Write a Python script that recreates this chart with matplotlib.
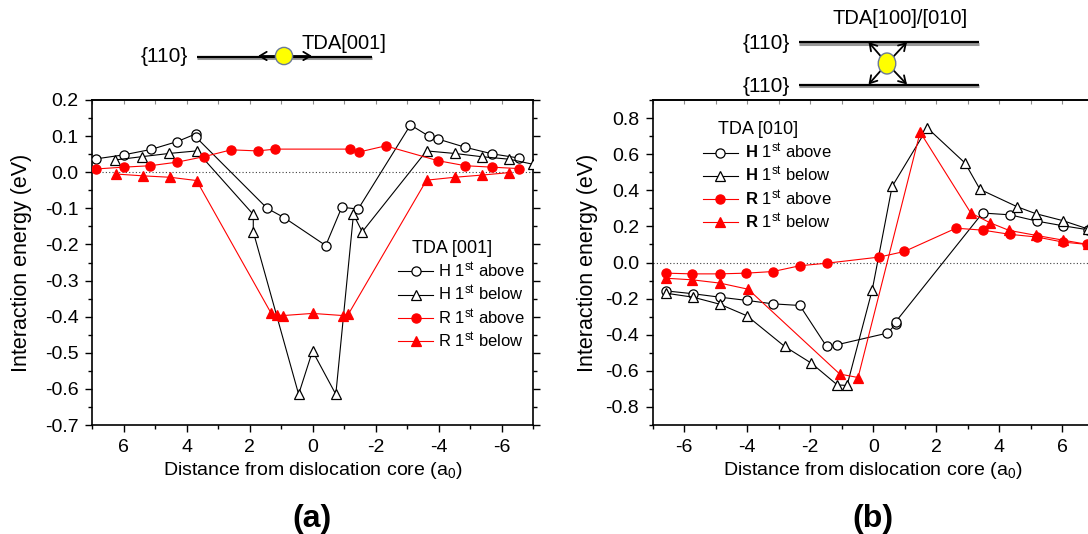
import matplotlib
matplotlib.use('Agg')
import matplotlib.pyplot as plt
from matplotlib.patches import Circle, Ellipse
from matplotlib.ticker import MultipleLocator, FormatStrFormatter

plt.rcParams['font.family'] = ['Liberation Sans', 'DejaVu Sans']
plt.rcParams['mathtext.fontset'] = 'custom'
plt.rcParams['mathtext.rm'] = 'Liberation Sans'
plt.rcParams['mathtext.bf'] = 'Liberation Sans:bold'
plt.rcParams['mathtext.it'] = 'Liberation Sans:italic'
plt.rcParams['axes.unicode_minus'] = False

# ---------------- data: panel (a) TDA[001] ----------------
a_h_above_x = [6.87, 6.0, 5.13, 4.29, 3.71, 3.71, 1.44, 0.895, -0.42, -0.93, -1.45, -3.11, -3.69, -3.98, -4.85, -5.70, -6.57]
a_h_above_y = [0.037, 0.048, 0.063, 0.085, 0.106, 0.098, -0.100, -0.126, -0.203, -0.097, -0.102, 0.131, 0.100, 0.092, 0.069, 0.051, 0.039]

a_h_below_x = [6.27, 5.42, 4.55, 3.68, 1.88, 1.88, 0.44, 0.0, -0.74, -1.30, -1.58, -3.62, -4.51, -5.37, -6.25, -7.0]
a_h_below_y = [0.034, 0.043, 0.052, 0.059, -0.117, -0.165, -0.615, -0.495, -0.615, -0.117, -0.165, 0.059, 0.052, 0.043, 0.036, 0.022]

a_r_above_x = [6.87, 6.0, 5.15, 4.29, 3.45, 2.58, 1.74, 1.18, -1.19, -1.48, -2.32, -3.98, -4.85, -5.70, -6.57]
a_r_above_y = [0.009, 0.014, 0.018, 0.028, 0.043, 0.062, 0.059, 0.064, 0.064, 0.056, 0.073, 0.032, 0.018, 0.014, 0.010]

a_r_below_x = [6.24, 5.39, 4.52, 3.68, 1.31, 1.13, 0.95, 0.0, -0.98, -1.14, -3.62, -4.51, -5.37, -6.25]
a_r_below_y = [-0.005, -0.010, -0.014, -0.023, -0.391, -0.395, -0.397, -0.391, -0.397, -0.393, -0.022, -0.014, -0.008, -0.001]

# ---------------- data: panel (b) TDA[010] ----------------
b_h_above_x = [-6.59, -5.72, -4.87, -4.01, -3.18, -2.33, -1.48, -1.16, 0.45, 0.72, 0.72, 3.47, 4.35, 5.20, 6.04, 6.83]
b_h_above_y = [-0.157, -0.173, -0.192, -0.210, -0.229, -0.238, -0.465, -0.456, -0.391, -0.341, -0.327, 0.274, 0.264, 0.229, 0.203, 0.181]

b_h_below_x = [-6.59, -5.72, -4.87, -4.01, -2.81, -1.96, -1.14, -0.83, -0.03, 0.60, 1.72, 2.92, 3.39, 4.58, 5.17, 6.02, 6.83]
b_h_below_y = [-0.170, -0.192, -0.231, -0.295, -0.465, -0.558, -0.678, -0.681, -0.151, 0.421, 0.745, 0.550, 0.405, 0.308, 0.270, 0.232, 0.185]

b_r_above_x = [-6.59, -5.74, -4.87, -4.03, -3.18, -2.33, -1.48, 0.19, 0.99, 2.63, 3.49, 4.34, 5.20, 6.03, 6.80]
b_r_above_y = [-0.059, -0.063, -0.063, -0.059, -0.050, -0.018, -0.004, 0.030, 0.061, 0.190, 0.179, 0.156, 0.141, 0.113, 0.100]

b_r_below_x = [-6.59, -5.74, -4.87, -3.97, -1.06, -0.48, 1.49, 3.10, 3.71, 4.31, 5.18, 6.02, 6.81]
b_r_below_y = [-0.087, -0.096, -0.114, -0.148, -0.618, -0.637, 0.722, 0.274, 0.220, 0.178, 0.150, 0.124, 0.100]

a_labels = [r'H 1$^{\mathrm{st}}$ above', r'H 1$^{\mathrm{st}}$ below',
            r'R 1$^{\mathrm{st}}$ above', r'R 1$^{\mathrm{st}}$ below']
b_labels = [r'$\mathbf{H}$ 1$^{\mathrm{st}}$ above', r'$\mathbf{H}$ 1$^{\mathrm{st}}$ below',
            r'$\mathbf{R}$ 1$^{\mathrm{st}}$ above', r'$\mathbf{R}$ 1$^{\mathrm{st}}$ below']

W, H = 1088, 534
fig = plt.figure(figsize=(W / 100, H / 100), dpi=100)

ax_a = fig.add_axes([92 / W, 1 - 425 / H, 441 / W, 325 / H])
ax_b = fig.add_axes([652.7 / W, 1 - 425 / H, 441 / W, 325 / H])


def style(ax, xlim, ylim, ymaj, ymin):
    ax.set_xlim(*xlim)
    ax.set_ylim(*ylim)
    ax.xaxis.set_major_locator(MultipleLocator(2))
    ax.xaxis.set_minor_locator(MultipleLocator(1))
    ax.yaxis.set_major_locator(MultipleLocator(ymaj))
    ax.yaxis.set_minor_locator(MultipleLocator(ymin))
    ax.yaxis.set_major_formatter(FormatStrFormatter('%.1f'))
    ax.xaxis.set_major_formatter(FormatStrFormatter('%d'))
    ax.tick_params(which='both', direction='out', top=False, right=True,
                   labelsize=14, width=1)
    ax.tick_params(which='major', length=4.8)
    ax.tick_params(which='minor', length=2.8)
    ax.tick_params(axis='y', which='major', pad=5)
    ax.tick_params(axis='x', which='major', pad=5.5)
    for s in ax.spines.values():
        s.set_linewidth(1.2)
    sec = ax.secondary_xaxis('top')
    sec.xaxis.set_major_locator(MultipleLocator(1))
    sec.tick_params(direction='in', length=3, labeltop=False, color='0.55', width=0.8)
    sec.spines['top'].set_linewidth(1.2)
    ax.axhline(0, color='0.25', ls=(0, (1, 2)), lw=0.8, zorder=1)
    ax.set_xlabel('Distance from dislocation core (a$_0$)', fontsize=14, labelpad=3)
    ax.set_ylabel('Interaction energy (eV)', fontsize=15.5)


def draw(ax, series):
    hs = []
    styles = [('k', 'o', 'white', 6.6), ('k', '^', 'white', 7.6),
              ('red', 'o', 'red', 6.6), ('red', '^', 'red', 7.6)]
    for (x, y), (c, m, fc, ms) in zip(series, styles):
        h, = ax.plot(x, y, '-', color=c, lw=0.8, marker=m, ms=ms, mfc=fc,
                     mec=c, mew=0.9, zorder=3)
        hs.append(h)
    return hs


hs_a = draw(ax_a, [(a_h_above_x, a_h_above_y), (a_h_below_x, a_h_below_y),
                   (a_r_above_x, a_r_above_y), (a_r_below_x, a_r_below_y)])
hs_b = draw(ax_b, [(b_h_above_x, b_h_above_y), (b_h_below_x, b_h_below_y),
                   (b_r_above_x, b_r_above_y), (b_r_below_x, b_r_below_y)])

style(ax_a, (7, -7), (-0.7, 0.2), 0.1, 0.05)
style(ax_b, (-7, 7), (-0.9, 0.9), 0.2, 0.1)
ax_a.yaxis.set_label_coords(-0.136, 0.5)
ax_b.yaxis.set_label_coords(-0.125, 0.5)

ax_a.legend(hs_a, a_labels, loc='center left', bbox_to_anchor=(0.694, 0.368),
            frameon=False, fontsize=12, handlelength=2.1, handletextpad=0.3,
            labelspacing=0.22, borderpad=0, borderaxespad=0)
ax_a.text(0.725, 0.544, 'TDA [001]', transform=ax_a.transAxes, fontsize=13,
          ha='left', va='center')

ax_b.legend(hs_b, b_labels, loc='center left', bbox_to_anchor=(0.114, 0.734),
            frameon=False, fontsize=12, handlelength=2.1, handletextpad=0.45,
            labelspacing=0.22, borderpad=0, borderaxespad=0)
ax_b.text(0.149, 0.91, 'TDA [010]', transform=ax_b.transAxes, fontsize=13,
          ha='left', va='center')

fig.text(312 / W, 1 - 519 / H, '(a)', fontsize=23, fontweight='bold', ha='center', va='center')
fig.text(873 / W, 1 - 519 / H, '(b)', fontsize=23, fontweight='bold', ha='center', va='center')

# ---------------- schematics (pixel overlay) ----------------
ov = fig.add_axes([0, 0, 1, 1], zorder=-1)
ov.set_xlim(0, W)
ov.set_ylim(H, 0)
ov.set_axis_off()


def plane(x0, x1, y):
    ov.plot([x0, x1], [y + 1.6, y + 1.6], color='0.6', lw=2.2, solid_capstyle='butt')
    ov.plot([x0, x1], [y, y], color='k', lw=1.6, solid_capstyle='butt')


def arrow(x0, y0, x1, y1):
    ov.annotate('', xy=(x1, y1), xytext=(x0, y0),
                arrowprops=dict(arrowstyle='->,head_length=0.5,head_width=0.3',
                                color='k', lw=1.3, shrinkA=0, shrinkB=0))


# left schematic
plane(197, 372, 56.5)
arrow(284, 56, 258, 56)
arrow(284, 56, 312, 56)
ov.add_patch(Circle((284, 56), 8.6, facecolor='#ffff00', edgecolor='#6b7a99', lw=1.0, zorder=5))
ov.text(188, 56.5, '{110}', fontsize=15, ha='right', va='center')
ov.text(301, 43.5, 'TDA[001]', fontsize=14.5, ha='left', va='center')

# right schematic
plane(798.5, 978.5, 42.2)
plane(798.5, 978.5, 84.8)
cx, cy = 887, 63.5
for tx, ty in [(868.5, 42), (907, 42), (868.5, 84.5), (907, 84.5)]:
    arrow(cx, cy, tx, ty)
ov.add_patch(Ellipse((cx, cy), 17.5, 21, facecolor='#ffff00', edgecolor='#6b7a99', lw=1.0, zorder=5))
ov.text(790, 43.5, '{110}', fontsize=15, ha='right', va='center')
ov.text(790, 86, '{110}', fontsize=15, ha='right', va='center')
ov.text(900, 18.5, 'TDA[100]/[010]', fontsize=14.5, ha='center', va='center')

fig.savefig('out.png', dpi=100)
